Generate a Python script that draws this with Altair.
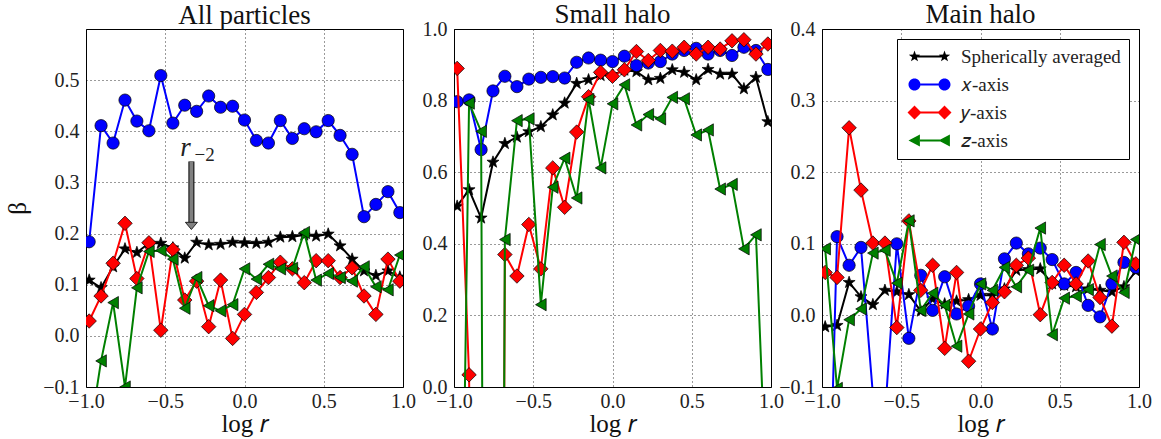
import math
import altair as alt
import pandas as pd

# ---------------- data ----------------
log_r = [-0.98, -0.905, -0.829, -0.754, -0.679, -0.603, -0.528, -0.452, -0.377,
         -0.302, -0.226, -0.151, -0.075, 0.0, 0.075, 0.151, 0.226, 0.302, 0.377,
         0.452, 0.528, 0.603, 0.679, 0.754, 0.829, 0.905, 0.98]

series = ["Spherically averaged", "𝑥-axis", "𝑦-axis", "𝑧-axis"]

all_sph = [0.109, 0.094, 0.135, 0.170, 0.163, 0.181, 0.181, 0.172, 0.152, 0.183, 0.178,
           0.179, 0.183, 0.182, 0.181, 0.183, 0.193, 0.194, 0.197, 0.195, 0.199, 0.176,
           0.150, 0.127, 0.118, 0.127, 0.115]
all_x = [0.184, 0.411, 0.377, 0.461, 0.420, 0.401, 0.509, 0.416, 0.451, 0.439, 0.469,
         0.447, 0.449, 0.422, 0.382, 0.377, 0.421, 0.386, 0.405, 0.399, 0.421, 0.392,
         0.355, 0.233, 0.257, 0.282, 0.241]
all_y = [0.029, 0.078, 0.142, 0.220, 0.112, 0.182, 0.011, 0.169, 0.070, 0.107, 0.018,
         0.109, -0.005, 0.042, 0.085, 0.114, 0.144, 0.131, 0.104, 0.147, 0.147, 0.114,
         0.133, 0.078, 0.042, 0.150, 0.107]
all_z = [-0.200, -0.049, 0.065, -0.100, 0.094, 0.165, 0.167, 0.150, 0.054, 0.114, 0.059,
         0.049, 0.061, 0.131, 0.111, 0.140, 0.131, 0.132, 0.202, 0.109, 0.122, 0.114,
         0.107, 0.135, 0.096, 0.090, 0.158]

small_sph = [0.505, 0.551, 0.472, 0.628, 0.680, 0.698, 0.713, 0.727, 0.760, 0.793, 0.848,
             0.858, 0.870, 0.872, 0.885, 0.881, 0.858, 0.862, 0.886, 0.879, 0.858, 0.887,
             0.874, 0.874, 0.833, 0.865, 0.741]
small_x = [0.797, 0.802, 0.663, 0.827, 0.868, 0.839, 0.860, 0.865, 0.867, 0.863, 0.907,
           0.919, 0.913, 0.909, 0.924, 0.898, 0.905, 0.909, 0.930, 0.940, 0.946, 0.930,
           0.940, 0.926, 0.949, 0.940, 0.887]
small_y = [0.890, 0.034, -3.0, -7.0, 0.370, 0.310, 0.454, 0.330, 0.612, 0.502, 0.712,
           0.811, 0.879, 0.868, 0.886, 0.937, 0.912, 0.940, 0.938, 0.949, 0.930, 0.949,
           0.944, 0.967, 0.970, 0.930, 0.958]
small_z = [-1.5, 0.793, 0.714, -7.0, 0.412, 0.744, 0.749, 0.230, 0.558, 0.639, 0.528,
           0.803, 0.612, 0.791, 0.844, 0.732, 0.761, 0.749, 0.809, 0.805, 0.704, 0.718,
           0.553, 0.566, 0.386, 0.425, -0.4]

main_sph = [-0.016, -0.014, 0.046, 0.026, 0.015, 0.035, 0.033, 0.029, 0.006, 0.023, 0.016,
            0.020, 0.022, 0.028, 0.028, 0.037, 0.063, 0.064, 0.065, 0.044, 0.042, 0.040,
            0.037, 0.035, 0.033, 0.040, 0.062]
main_x = [-0.5, 0.110, 0.070, 0.095, -0.11, -0.14, 0.100, -0.032, 0.056, 0.007, 0.054,
          0.002, 0.013, 0.044, -0.019, 0.079, 0.101, 0.086, 0.094, 0.078, 0.044, 0.060,
          0.014, -0.002, 0.044, 0.074, 0.067]
main_y = [0.060, 0.053, 0.262, 0.175, 0.101, 0.101, -0.017, 0.132, 0.035, 0.070, -0.046,
          0.060, -0.064, -0.019, 0.018, 0.033, 0.070, 0.080, 0.001, 0.046, 0.070, 0.044,
          0.076, 0.025, -0.015, 0.102, 0.072]
main_z = [0.093, -0.102, -0.006, 0.009, 0.087, 0.091, 0.045, 0.132, 0.007, 0.031, 0.014,
          -0.043, 0.002, 0.044, 0.035, 0.067, 0.040, 0.063, 0.122, -0.027, 0.024, 0.027,
          0.036, 0.099, 0.055, 0.032, 0.106]

panel_titles = ["All particles", "Small halo", "Main halo"]
panel_values = [[all_sph, all_x, all_y, all_z],
                [small_sph, small_x, small_y, small_z],
                [main_sph, main_x, main_y, main_z]]
y_domains = [[-0.1, 0.6], [0.0, 1.0], [-0.1, 0.4]]
y_ticks = [[-0.1, 0.0, 0.1, 0.2, 0.3, 0.4, 0.5],
           [0.0, 0.2, 0.4, 0.6, 0.8, 1.0],
           [-0.1, 0.0, 0.1, 0.2, 0.3, 0.4]]
x_ticks = [-1.0, -0.5, 0.0, 0.5, 1.0]

arrow_x = [-0.335]
arrow_top = [0.341]
arrow_head = [0.222]
label_r_x = [-0.372]
label_r_y = [0.368]

FONT = "Liberation Serif"
W, H = 317, 358
title_dy = [4, 13, 13]


def star_path(cx, R, r):
    pts = []
    for k in range(10):
        ang = math.radians(-90 + 36 * k)
        rad = R if k % 2 == 0 else r
        pts.append((cx + rad * math.cos(ang), rad * math.sin(ang)))
    return "M" + "L".join(f"{px:.3f},{py:.3f}" for px, py in pts) + "Z"


def line_rect(a, b, h=0.2):
    return f"M{a:.3f},{-h:.3f}L{b:.3f},{-h:.3f}L{b:.3f},{h:.3f}L{a:.3f},{h:.3f}Z"


def circ(cx, r):
    return (f"M{cx - r:.3f},0A{r:.3f},{r:.3f},0,1,0,{cx + r:.3f},0"
            f"A{r:.3f},{r:.3f},0,1,0,{cx - r:.3f},0Z")


def diam(cx, r):
    return f"M{cx - r:.3f},0L{cx:.3f},{-r:.3f}L{cx + r:.3f},0L{cx:.3f},{r:.3f}Z"


def tri_left(cx, r):
    return f"M{cx - r:.3f},0L{cx + 0.9 * r:.3f},{-r:.3f}L{cx + 0.9 * r:.3f},{r:.3f}Z"


colors = ["#000000", "#0000ff", "#ff0000", "#008000"]
shapes = [star_path(0, 1.0, 0.4), "circle", "diamond", "triangle-left"]
sizes = [160, 150, 210, 150]

legend_paths = [
    star_path(0, 1.2, 0.48) + line_rect(0.4, 5.6) + star_path(6, 1.2, 0.48),
    circ(0, 1.2) + line_rect(1.2, 4.8) + circ(6, 1.2),
    diam(0, 1.4) + line_rect(1.2, 4.8) + diam(6, 1.4),
    tri_left(0, 1.2) + line_rect(1.1, 5.2) + tri_left(6, 1.2),
]


def panel(idx):
    rows = []
    for name, vals in zip(series, panel_values[idx]):
        for xv, yv in zip(log_r, vals):
            rows.append({"log_r": xv, "beta": yv, "series": name})
    df = pd.DataFrame(rows)

    xenc = alt.X("log_r:Q", scale=alt.Scale(domain=[-1, 1], nice=False, zero=False),
                 axis=alt.Axis(values=x_ticks, format=".1f", title="log 𝑟",
                               labelFlush=False, labelOverlap=False))
    yaxis_kw = dict(values=y_ticks[idx], format=".1f", labelFlush=False,
                    labelOverlap=False)
    if idx == 0:
        yaxis = alt.Axis(title="β", **yaxis_kw)
    else:
        yaxis = alt.Axis(title=None, **yaxis_kw)
    yenc = alt.Y("beta:Q", scale=alt.Scale(domain=y_domains[idx], nice=False, zero=False),
                 axis=yaxis)

    layers = []
    for name, col, shp, sz in zip(series, colors, shapes, sizes):
        base = alt.Chart(df).transform_filter(alt.datum.series == name)
        layers.append(base.mark_line(color=col, strokeWidth=2, clip=True)
                      .encode(x=xenc, y=yenc))
        layers.append(base.mark_point(shape=shp, size=sz, filled=True, fill=col,
                                      stroke="black", strokeWidth=0.7, opacity=1,
                                      clip=True)
                      .encode(x=xenc, y=yenc))

    if idx == 0:
        adf = pd.DataFrame({"x": arrow_x, "top": arrow_top, "head": arrow_head,
                            "lx": label_r_x, "ly": label_r_y})
        ax = alt.X("x:Q")
        layers.append(alt.Chart(adf).mark_rule(color="black", strokeWidth=6)
                      .encode(x=ax, y="top:Q", y2="head:Q"))
        layers.append(alt.Chart(adf).mark_rule(color="#808080", strokeWidth=4)
                      .encode(x=ax, y="top:Q", y2="head:Q"))
        layers.append(alt.Chart(adf).mark_point(
            shape="M-1,0L1,0L0,1.2Z", size=144, filled=True, fill="#808080",
            stroke="black", strokeWidth=0.8, opacity=1)
            .encode(x=ax, y="head:Q"))
        layers.append(alt.Chart(adf).mark_text(
            text="r", font=FONT, fontStyle="italic", fontSize=27, color="#222")
            .encode(x="lx:Q", y="ly:Q"))
        layers.append(alt.Chart(adf).mark_text(
            text="−2", font=FONT, fontSize=19, color="#222", dx=19, dy=7)
            .encode(x="lx:Q", y="ly:Q"))

    if idx == 2:
        ldf = pd.DataFrame({"series": series})
        leg = alt.Legend(title=None, orient="none", legendX=75, legendY=10, padding=8,
                         strokeColor="black", fillColor="white", cornerRadius=0,
                         labelFont=FONT, labelFontSize=19, labelColor="#222",
                         labelOffset=37, labelLimit=300, symbolSize=100,
                         symbolStrokeColor="black", symbolStrokeWidth=0.6,
                         rowPadding=8, symbolOpacity=1)
        layers.append(alt.Chart(ldf).transform_filter("false").mark_point(
            filled=True, stroke="black", strokeWidth=0.6, opacity=1)
            .encode(color=alt.Color("series:N",
                                    scale=alt.Scale(domain=series, range=colors),
                                    legend=leg),
                    shape=alt.Shape("series:N",
                                    scale=alt.Scale(domain=series, range=legend_paths),
                                    legend=leg)))

    return alt.layer(*layers).properties(
        width=W, height=H,
        title=alt.TitleParams(panel_titles[idx], font=FONT, fontSize=27,
                              fontWeight="normal", color="#111", offset=3,
                              dy=title_dy[idx], frame="group"))


chart = alt.hconcat(panel(0), panel(1), panel(2), spacing=51, bounds="flush").resolve_scale(
    x="independent", y="independent", color="independent", shape="independent"
).properties(
    padding={"left": 5, "top": 0, "right": 5, "bottom": 5}
).configure_view(
    stroke="black", strokeWidth=1
).configure_axis(
    labelFont=FONT, labelFontSize=20, labelColor="#222",
    titleFont=FONT, titleFontSize=25, titleFontWeight="normal", titleColor="#111",
    grid=True, gridColor="black", gridDash=[1, 3], gridWidth=0.8, gridOpacity=1,
    ticks=False, tickSize=0, domain=False, labelPadding=7
).configure_axisY(
    titlePadding=12
).configure_axisX(
    labelPadding=4, titlePadding=0
)

chart.save("out.html", embed_options={"renderer": "svg", "actions": False})
